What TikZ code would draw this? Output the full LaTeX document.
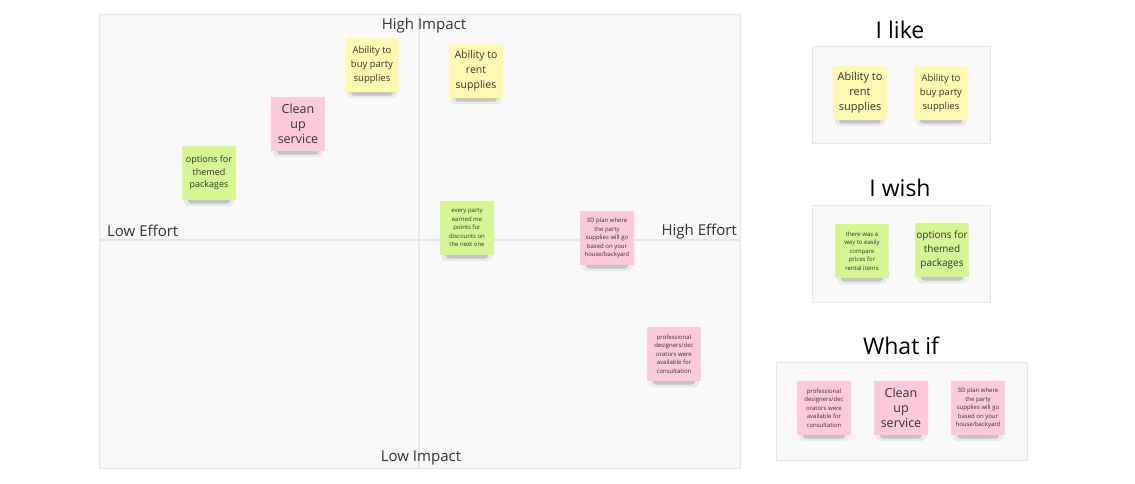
\documentclass[tikz,border=0pt]{standalone}
\usepackage{fontspec}
\setmainfont{Open Sans}
\usetikzlibrary{calc}
\definecolor{stYellow}{HTML}{FFF9B1}
\definecolor{stPink}{HTML}{FFC9DC}
\definecolor{stGreen}{HTML}{D5F692}
\definecolor{frameFill}{HTML}{F9F9F9}
\definecolor{frameLine}{HTML}{E6E6E6}
\definecolor{txt}{HTML}{333333}
\tikzset{
  sticky/.style={minimum width=54pt, minimum height=54pt, inner sep=0pt, align=center, text=txt},
  yel/.style={sticky, fill=stYellow},
  pnk/.style={sticky, fill=stPink},
  grn/.style={sticky, fill=stGreen},
  big/.style={font=\fontsize{12.5}{15}\selectfont},
  med/.style={font=\fontsize{9.5}{14}\selectfont},
  sml/.style={font=\fontsize{6}{8.5}\selectfont},
  shadowA/.style={fill=black, opacity=0.06, rounded corners=4pt},
  shadowB/.style={fill=black, opacity=0.16, rounded corners=3pt},
  panel/.style={draw=frameLine, fill=frameFill, line width=1pt},
  axis/.style={text=txt, font=\fontsize{15}{17}\selectfont, inner sep=0pt},
  ttl/.style={text=black, font=\fontsize{23}{26}\selectfont, inner sep=0pt}
}
\newcommand{\stk}[4]{%
  \fill[shadowA] ($#3+(-25,22)$) rectangle ($#3+(25,33)$);
  \fill[shadowB] ($#3+(-21,22)$) rectangle ($#3+(21,30.5)$);
  \node[#1] (#2) at #3 {#4};}
\begin{document}
\begin{tikzpicture}[x=1pt,y=-1pt]
\useasboundingbox (0,0) rectangle (1135,483);
% quadrant frame
\draw[panel] (99,14) rectangle (740,468);
\draw[frameLine, line width=1.5pt] (419,14) -- (419,468);
\draw[frameLine, line width=1.5pt] (99,240) -- (740,240);
\node[axis] (hi) at (424,26) {High Impact};
\node[axis] (lo) at (421,458) {Low Impact};
\node[axis, anchor=west] (le) at (107,231) {Low Effort};
\node[axis, anchor=east] (he) at (737,232) {High Effort};
% stickies on matrix
\stk{yel, med}{buy}{(372,65)}{Ability to\\buy party\\supplies}
\stk{yel, font=\fontsize{10.5}{15}\selectfont}{rent}{(476,71)}{Ability to\\rent\\supplies}
\stk{pnk, big}{clean}{(298,124)}{Clean\\up\\service}
\stk{grn, font=\fontsize{9}{12.5}\selectfont}{themed}{(209,173)}{options for\\themed\\packages}
\stk{grn, sml}{points}{(467,228)}{every party\\earned me\\points for\\discounts on\\the next one}
\stk{pnk, sml}{plan}{(607,238)}{3D plan where\\the party\\supplies will go\\based on your\\house/backyard}
\stk{pnk, sml}{pro}{(674,354)}{professional\\designers/dec\\orators were\\available for\\consultation}
% I like
\node[ttl] (tlike) at (900,30) {I like};
\draw[panel] (812,46) rectangle (990,143);
\stk{yel, font=\fontsize{11}{15}\selectfont}{lrent}{(860,93)}{Ability to\\rent\\supplies}
\stk{yel, med}{lbuy}{(941,93)}{Ability to\\buy party\\supplies}
% I wish
\node[ttl] (twish) at (900,188) {I wish};
\draw[panel] (812,205) rectangle (990,302);
\stk{grn, sml}{wcomp}{(862,251)}{there was a\\way to easily\\compare\\prices for\\rental items}
\stk{grn, font=\fontsize{10}{14}\selectfont}{wthemed}{(942,250)}{options for\\themed\\packages}
% What if
\node[ttl] (twhat) at (901,346) {What if};
\draw[panel] (776,362) rectangle (1027,460);
\stk{pnk, sml}{wpro}{(824,408)}{professional\\designers/dec\\orators were\\available for\\consultation}
\stk{pnk, big}{wclean}{(901,408)}{Clean\\up\\service}
\stk{pnk, sml}{wplan}{(978,408)}{3D plan where\\the party\\supplies will go\\based on your\\house/backyard}
\end{tikzpicture}
\end{document}
